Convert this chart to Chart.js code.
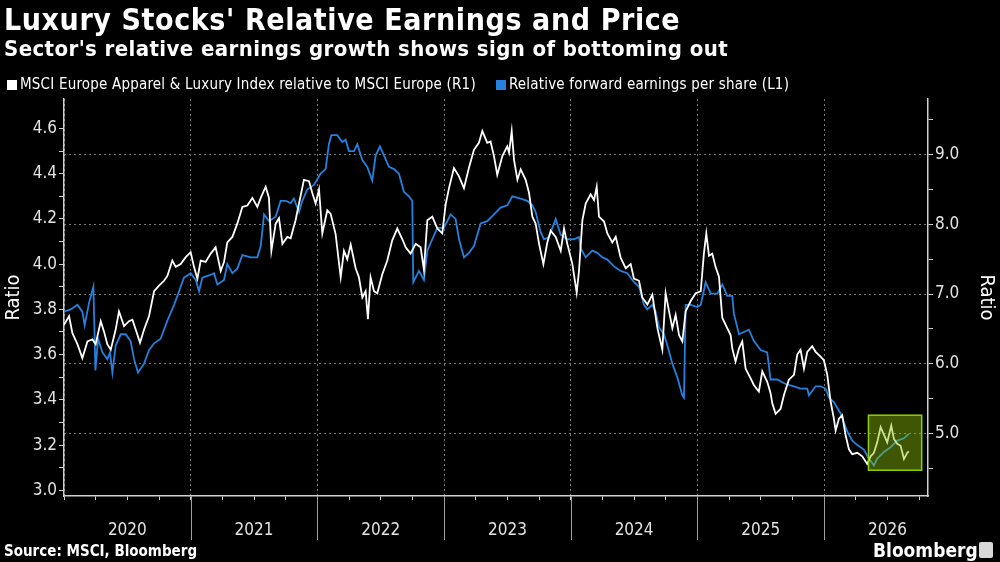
<!DOCTYPE html>
<html lang="en">
<head>
    <meta charset="UTF-8">
    <title>Luxury Stocks' Relative Earnings and Price</title>
    <script src="https://cdn.jsdelivr.net/npm/chart.js"></script>
    <style>
        body {
            margin: 0;
            width: 1000px;
            height: 562px;
            background: #000;
            color: #fff;
            font-family: 'DejaVu Sans Condensed', 'DejaVu Sans', sans-serif;
            overflow: hidden;
            position: relative;
        }
        .txt { position: absolute; white-space: nowrap; }
        #title { left: 4px; top: 4.6px; font-size: 30px; line-height: 30px; font-weight: bold; letter-spacing: 0.6px; }
        #subtitle { left: 4px; top: 38px; font-size: 22px; line-height: 22px; font-weight: bold; letter-spacing: 0.4px; }
        #legend { left: 7px; top: 77px; font-size: 15px; line-height: 15px; letter-spacing: 0.2px; }
        .sw { display: inline-block; width: 10px; height: 10px; margin-right: 3px; vertical-align: -1px; }
        #source { left: 4px; top: 544px; font-size: 15px; line-height: 15px; font-weight: bold; }
        #brand { left: 873px; top: 541px; font-size: 19px; line-height: 19px; font-weight: bold; }
        #brand-icon { position: absolute; left: 979px; top: 542px; width: 14px; height: 16px; background: #d8d8d8; border-radius: 2px; }
        #wrap { position: absolute; left: 0; top: 0; width: 1000px; height: 562px; }
    </style>
</head>
<body>
    <div id="wrap"><canvas id="chart"></canvas></div>
    <div class="txt" id="title">Luxury Stocks' Relative Earnings and Price</div>
    <div class="txt" id="subtitle">Sector's relative earnings growth shows sign of bottoming out</div>
    <div class="txt" id="legend"><span class="sw" style="background:#fff"></span>MSCI Europe Apparel &amp; Luxury Index relative to MSCI Europe (R1)<span class="sw" style="background:#2680dd;margin-left:20px"></span>Relative forward earnings per share (L1)</div>
    <div class="txt" id="source">Source: MSCI, Bloomberg</div>
    <div class="txt" id="brand">Bloomberg</div>
    <div id="brand-icon"></div>

    <script>
        // x values are decimal years
        const yearLabels = ['2020', '2021', '2022', '2023', '2024', '2025', '2026'];

        // MSCI Europe Apparel & Luxury vs MSCI Europe (right axis)
        const priceDates = [
            2020.000, 2020.040, 2020.066, 2020.106, 2020.145, 2020.185, 2020.224, 2020.250, 2020.290, 2020.316,
            2020.342, 2020.369, 2020.408, 2020.434, 2020.474, 2020.513, 2020.540, 2020.566, 2020.600, 2020.632,
            2020.671, 2020.711, 2020.750, 2020.790, 2020.816, 2020.855, 2020.882, 2020.921, 2020.961, 2021.000,
            2021.026, 2021.053, 2021.079, 2021.118, 2021.158, 2021.197, 2021.237, 2021.263, 2021.289, 2021.329,
            2021.368, 2021.408, 2021.447, 2021.487, 2021.526, 2021.553, 2021.592, 2021.618, 2021.637, 2021.671,
            2021.697, 2021.724, 2021.763, 2021.789, 2021.828, 2021.855, 2021.894, 2021.934, 2021.960, 2021.986,
            2022.013, 2022.039, 2022.078, 2022.105, 2022.144, 2022.184, 2022.210, 2022.236, 2022.263, 2022.302,
            2022.328, 2022.355, 2022.381, 2022.399, 2022.420, 2022.447, 2022.473, 2022.512, 2022.552, 2022.591,
            2022.631, 2022.670, 2022.697, 2022.736, 2022.776, 2022.815, 2022.841, 2022.868, 2022.907, 2022.947,
            2022.986, 2023.012, 2023.039, 2023.078, 2023.118, 2023.157, 2023.196, 2023.236, 2023.275, 2023.302,
            2023.341, 2023.367, 2023.394, 2023.420, 2023.460, 2023.499, 2023.513, 2023.534, 2023.552, 2023.579,
            2023.605, 2023.644, 2023.671, 2023.697, 2023.723, 2023.750, 2023.784, 2023.815, 2023.842, 2023.881,
            2023.921, 2023.947, 2023.973, 2024.013, 2024.047, 2024.065, 2024.092, 2024.118, 2024.157, 2024.184,
            2024.205, 2024.223, 2024.263, 2024.289, 2024.328, 2024.355, 2024.394, 2024.434, 2024.473, 2024.499,
            2024.539, 2024.565, 2024.605, 2024.644, 2024.684, 2024.723, 2024.749, 2024.776, 2024.802, 2024.828,
            2024.855, 2024.881, 2024.907, 2024.947, 2024.986, 2025.026, 2025.051, 2025.070, 2025.091, 2025.117,
            2025.143, 2025.170, 2025.196, 2025.235, 2025.262, 2025.275, 2025.301, 2025.328, 2025.354, 2025.380,
            2025.420, 2025.446, 2025.485, 2025.512, 2025.551, 2025.577, 2025.591, 2025.617, 2025.656, 2025.683,
            2025.722, 2025.762, 2025.788, 2025.814, 2025.841, 2025.867, 2025.906, 2025.933, 2025.972, 2025.998,
            2026.025, 2026.051, 2026.077, 2026.091, 2026.117, 2026.143, 2026.169, 2026.196, 2026.222, 2026.262,
            2026.301, 2026.340, 2026.367, 2026.393, 2026.419, 2026.446, 2026.472, 2026.498, 2026.530, 2026.551,
            2026.577, 2026.604, 2026.630, 2026.656, 2026.669
        ];
        const priceValues = [
            6.56, 6.68, 6.44, 6.28, 6.08, 6.32, 6.35, 6.28, 6.61, 6.46,
            6.28, 6.20, 6.49, 6.75, 6.54, 6.61, 6.63, 6.49, 6.30, 6.49,
            6.68, 7.04, 7.12, 7.19, 7.26, 7.48, 7.39, 7.43, 7.53, 7.60,
            7.39, 7.22, 7.48, 7.46, 7.58, 7.67, 7.33, 7.46, 7.74, 7.82,
            8.01, 8.25, 8.27, 8.38, 8.25, 8.38, 8.54, 8.38, 7.62, 8.01,
            8.09, 7.72, 7.82, 7.80, 8.06, 8.30, 8.64, 8.62, 8.45, 8.30,
            8.50, 7.87, 8.20, 8.15, 7.86, 7.24, 7.62, 7.50, 7.71, 7.37,
            7.24, 6.95, 7.04, 6.64, 7.24, 7.04, 7.01, 7.28, 7.48, 7.77,
            7.94, 7.79, 7.67, 7.58, 7.72, 7.67, 7.35, 8.06, 8.11, 7.94,
            7.87, 8.28, 8.52, 8.81, 8.69, 8.52, 8.81, 9.07, 9.17, 9.34,
            9.17, 9.19, 8.98, 8.71, 8.98, 9.12, 9.03, 9.34, 8.93, 8.64,
            8.79, 8.64, 8.45, 8.11, 8.01, 7.72, 7.43, 7.74, 7.91, 7.82,
            7.62, 7.94, 7.72, 7.43, 7.02, 7.33, 8.06, 8.30, 8.43, 8.35,
            8.54, 8.11, 8.04, 7.87, 7.74, 7.82, 7.52, 7.37, 7.43, 7.22,
            7.19, 6.95, 6.85, 6.99, 6.51, 6.20, 7.01, 6.75, 6.51, 6.70,
            6.41, 6.32, 6.75, 6.90, 7.01, 7.04, 7.58, 7.87, 7.55, 7.58,
            7.39, 7.25, 6.66, 6.51, 6.41, 6.22, 6.03, 6.22, 6.32, 5.93,
            5.79, 5.69, 5.60, 5.89, 5.74, 5.58, 5.43, 5.28, 5.35, 5.55,
            5.77, 5.84, 6.13, 6.20, 5.93, 6.17, 6.25, 6.17, 6.10, 6.05,
            5.84, 5.46, 5.21, 5.04, 5.21, 5.26, 4.98, 4.77, 4.70, 4.72,
            4.67, 4.56, 4.67, 4.72, 4.87, 5.09, 4.98, 4.87, 5.11, 4.92,
            4.85, 4.82, 4.63, 4.72, 4.74
        ];

        // Relative forward earnings per share (left axis)
        const epsDates = [
            2020.000, 2020.053, 2020.106, 2020.145, 2020.163, 2020.198, 2020.232, 2020.248, 2020.269, 2020.303,
            2020.342, 2020.363, 2020.382, 2020.408, 2020.448, 2020.487, 2020.526, 2020.553, 2020.584, 2020.632,
            2020.671, 2020.711, 2020.763, 2020.816, 2020.869, 2020.908, 2020.947, 2021.000, 2021.040, 2021.066,
            2021.092, 2021.145, 2021.184, 2021.211, 2021.263, 2021.289, 2021.329, 2021.368, 2021.408, 2021.474,
            2021.526, 2021.553, 2021.579, 2021.618, 2021.671, 2021.710, 2021.750, 2021.789, 2021.815, 2021.855,
            2021.881, 2021.920, 2021.973, 2022.026, 2022.065, 2022.091, 2022.110, 2022.157, 2022.197, 2022.223,
            2022.249, 2022.289, 2022.315, 2022.355, 2022.394, 2022.433, 2022.460, 2022.494, 2022.526, 2022.565,
            2022.605, 2022.644, 2022.683, 2022.723, 2022.749, 2022.757, 2022.802, 2022.841, 2022.868, 2022.907,
            2022.947, 2022.999, 2023.052, 2023.091, 2023.118, 2023.157, 2023.196, 2023.236, 2023.289, 2023.341,
            2023.394, 2023.446, 2023.500, 2023.539, 2023.605, 2023.657, 2023.697, 2023.723, 2023.763, 2023.789,
            2023.828, 2023.881, 2023.921, 2023.973, 2024.026, 2024.065, 2024.078, 2024.118, 2024.170, 2024.210,
            2024.249, 2024.289, 2024.342, 2024.394, 2024.447, 2024.499, 2024.539, 2024.578, 2024.605, 2024.644,
            2024.670, 2024.697, 2024.736, 2024.763, 2024.802, 2024.841, 2024.881, 2024.894, 2024.907, 2024.947,
            2024.999, 2025.026, 2025.065, 2025.105, 2025.157, 2025.197, 2025.235, 2025.275, 2025.288, 2025.328,
            2025.367, 2025.406, 2025.446, 2025.499, 2025.551, 2025.577, 2025.630, 2025.696, 2025.762, 2025.814,
            2025.867, 2025.880, 2025.933, 2025.972, 2026.012, 2026.038, 2026.077, 2026.130, 2026.183, 2026.222,
            2026.262, 2026.314, 2026.354, 2026.393, 2026.419, 2026.472, 2026.525, 2026.577, 2026.630, 2026.669
        ];
        const epsValues = [
            3.79, 3.80, 3.82, 3.79, 3.73, 3.83, 3.90, 3.53, 3.67, 3.61,
            3.58, 3.61, 3.52, 3.64, 3.69, 3.69, 3.66, 3.58, 3.52, 3.56,
            3.62, 3.65, 3.67, 3.75, 3.82, 3.88, 3.94, 3.96, 3.93, 3.88,
            3.94, 3.95, 3.96, 3.91, 3.93, 4.00, 3.96, 3.98, 4.04, 4.03,
            4.03, 4.08, 4.22, 4.19, 4.21, 4.28, 4.28, 4.27, 4.29, 4.23,
            4.28, 4.33, 4.35, 4.40, 4.42, 4.53, 4.57, 4.57, 4.54, 4.55,
            4.50, 4.50, 4.53, 4.46, 4.43, 4.37, 4.48, 4.52, 4.48, 4.43,
            4.42, 4.40, 4.32, 4.30, 4.28, 3.92, 3.97, 3.93, 4.06, 4.11,
            4.16, 4.16, 4.22, 4.20, 4.11, 4.03, 4.05, 4.08, 4.18, 4.19,
            4.22, 4.25, 4.26, 4.30, 4.29, 4.28, 4.26, 4.23, 4.14, 4.11,
            4.12, 4.20, 4.13, 4.11, 4.11, 4.12, 4.07, 4.03, 4.06, 4.05,
            4.03, 4.02, 3.99, 3.97, 3.96, 3.92, 3.90, 3.82, 3.80, 3.82,
            3.79, 3.72, 3.69, 3.64, 3.56, 3.50, 3.42, 3.41, 3.82, 3.82,
            3.81, 3.82, 3.92, 3.87, 3.87, 3.91, 3.86, 3.86, 3.78, 3.69,
            3.70, 3.71, 3.66, 3.62, 3.61, 3.49, 3.49, 3.47, 3.46, 3.45,
            3.45, 3.42, 3.46, 3.46, 3.45, 3.41, 3.39, 3.34, 3.26, 3.22,
            3.20, 3.18, 3.14, 3.11, 3.14, 3.17, 3.19, 3.22, 3.23, 3.25
        ];

        // highlighted recent period (right-axis units)
        const boxStart = 2026.35, boxEnd = 2026.77;
        const boxLow = 4.47, boxHigh = 5.26;

        const FONT = "'DejaVu Sans Condensed', 'DejaVu Sans', sans-serif";
        const tickGray = '#e2e2e2';
        const lineGray = '#cfcfcf';

        const toPoints = (xs, ys) => xs.map((x, i) => ({ x: x, y: ys[i] }));

        // quarter tick positions on the time axis
        const quarterTicks = [];
        yearLabels.forEach(y => {
            for (let q = 0; q < 4; q++) quarterTicks.push(Number(y) + q / 4);
        });

        const boxPlugin = {
            id: 'highlightBox',
            afterDatasetsDraw(chart) {
                const { ctx, scales } = chart;
                const x0 = scales.x.getPixelForValue(boxStart);
                const x1 = scales.x.getPixelForValue(boxEnd);
                const y0 = scales.yR.getPixelForValue(boxHigh);
                const y1 = scales.yR.getPixelForValue(boxLow);
                ctx.save();
                ctx.fillStyle = 'rgba(140, 190, 10, 0.45)';
                ctx.fillRect(x0, y0, x1 - x0, y1 - y0);
                ctx.strokeStyle = '#8fd000';
                ctx.lineWidth = 1.5;
                ctx.strokeRect(x0, y0, x1 - x0, y1 - y0);
                ctx.restore();
            }
        };

        // long year separators under the time axis
        const yearSeparators = {
            id: 'yearSeparators',
            afterDraw(chart) {
                const { ctx, chartArea, scales } = chart;
                ctx.save();
                ctx.strokeStyle = '#a0a0a0';
                ctx.lineWidth = 1;
                yearLabels.slice(1).forEach(y => {
                    const px = Math.round(scales.x.getPixelForValue(Number(y))) + 0.5;
                    ctx.beginPath();
                    ctx.moveTo(px, chartArea.bottom);
                    ctx.lineTo(px, chartArea.bottom + 44);
                    ctx.stroke();
                });
                ctx.restore();
            }
        };

        new Chart(document.getElementById('chart'), {
            type: 'line',
            data: {
                datasets: [
                    {
                        label: 'MSCI Europe Apparel & Luxury Index relative to MSCI Europe (R1)',
                        data: toPoints(priceDates, priceValues),
                        yAxisID: 'yR',
                        borderColor: '#ffffff',
                        borderWidth: 1.8,
                        pointRadius: 0,
                        tension: 0
                    },
                    {
                        label: 'Relative forward earnings per share (L1)',
                        data: toPoints(epsDates, epsValues),
                        yAxisID: 'yL',
                        borderColor: '#2680dd',
                        borderWidth: 1.8,
                        pointRadius: 0,
                        tension: 0
                    }
                ]
            },
            options: {
                responsive: true,
                maintainAspectRatio: false,
                animation: false,
                layout: { padding: { top: 99, left: 0, right: 0, bottom: 0 } },
                plugins: {
                    legend: { display: false },
                    tooltip: { enabled: false }
                },
                scales: {
                    x: {
                        type: 'linear',
                        min: 2020,
                        max: 2026.82,
                        afterBuildTicks: s => { s.ticks = quarterTicks.map(v => ({ value: v })); },
                        afterFit: s => { s.height = 66; },
                        ticks: {
                            autoSkip: false,
                            maxRotation: 0,
                            padding: 20,
                            color: tickGray,
                            font: { family: FONT, size: 17 },
                            callback: v => (Math.abs(v % 1 - 0.5) < 1e-6 ? yearLabels[Math.floor(v) - 2020] : '')
                        },
                        grid: {
                            drawOnChartArea: true,
                            color: c => (c.tick && Number.isInteger(c.tick.value) ? '#777' : 'rgba(0,0,0,0)'),
                            tickColor: lineGray,
                            tickLength: 4,
                            tickBorderDash: []
                        },
                        border: { color: lineGray, width: 1.5, dash: [2, 3] }
                    },
                    yL: {
                        position: 'left',
                        min: 2.975,
                        max: 4.73,
                        afterBuildTicks: s => {
                            const t = [];
                            for (let i = 30; i <= 46; i++) t.push({ value: i / 10 });
                            s.ticks = t;
                        },
                        afterFit: s => { s.width = 64; },
                        ticks: {
                            padding: 2,
                            color: tickGray,
                            font: { family: FONT, size: 17 },
                            callback: v => (Math.round(v * 10) % 2 === 0 ? v.toFixed(1) : '')
                        },
                        grid: { drawOnChartArea: false, tickColor: lineGray, tickLength: 5 },
                        border: { color: lineGray, width: 1.5 },
                        title: {
                            display: true,
                            text: 'Ratio',
                            color: '#ffffff',
                            padding: { top: 2, bottom: 0 },
                            font: { family: FONT, size: 20 }
                        }
                    },
                    yR: {
                        position: 'right',
                        min: 4.10,
                        max: 9.80,
                        afterBuildTicks: s => {
                            const t = [];
                            for (let i = 9; i <= 19; i++) t.push({ value: i / 2 });
                            s.ticks = t;
                        },
                        afterFit: s => { s.width = 72; },
                        ticks: {
                            padding: 2,
                            color: tickGray,
                            font: { family: FONT, size: 17 },
                            callback: v => (Number.isInteger(v) ? v.toFixed(1) : '')
                        },
                        grid: {
                            drawOnChartArea: true,
                            color: c => (c.tick && Number.isInteger(c.tick.value) ? '#777' : 'rgba(0,0,0,0)'),
                            tickColor: lineGray,
                            tickLength: 5,
                            tickBorderDash: []
                        },
                        border: { color: lineGray, width: 1.5, dash: [2, 3] },
                        title: {
                            display: true,
                            text: 'Ratio',
                            color: '#ffffff',
                            padding: { top: 2, bottom: 0 },
                            font: { family: FONT, size: 20 }
                        }
                    }
                }
            },
            plugins: [boxPlugin, yearSeparators]
        });
    </script>
</body>
</html>
